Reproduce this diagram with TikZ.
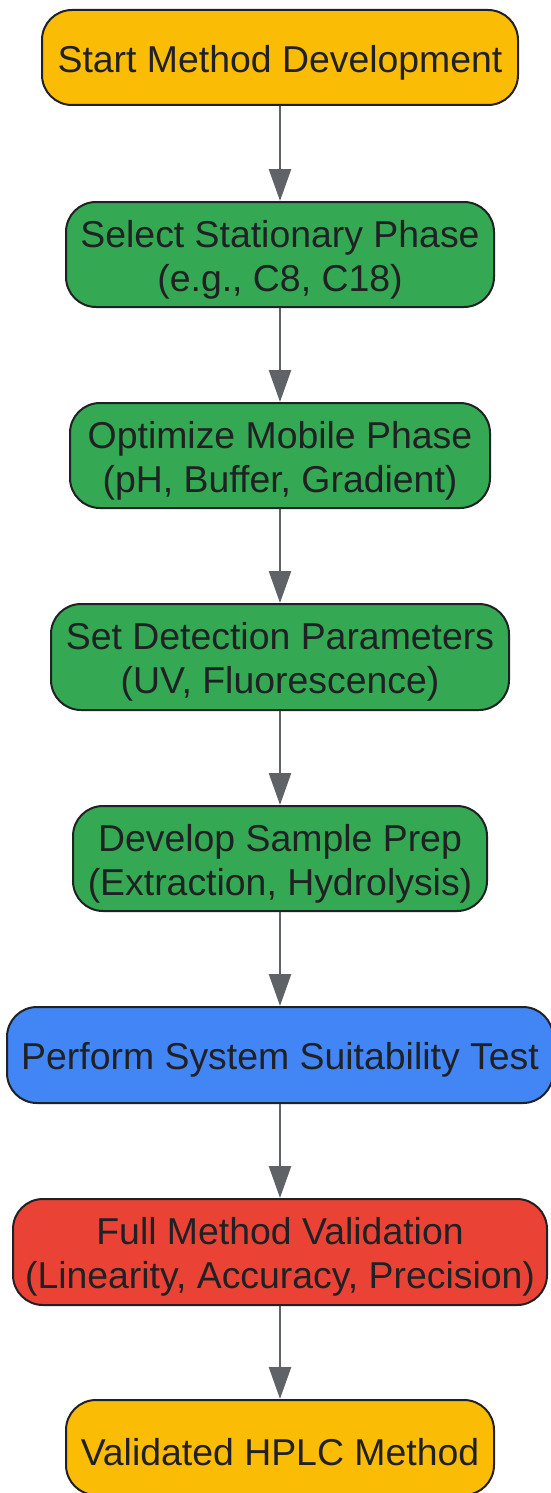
\documentclass[tikz,border=0pt]{standalone}
\usepackage{fontspec}
\setmainfont{Liberation Sans}
\usetikzlibrary{arrows.meta}
\definecolor{cyellow}{HTML}{FBBC05}
\definecolor{cgreen}{HTML}{34A853}
\definecolor{cblue}{HTML}{4285F4}
\definecolor{cred}{HTML}{EA4335}
\definecolor{ctext}{HTML}{202124}
\definecolor{carrow}{HTML}{5F6368}
\tikzset{
  box/.style={draw=ctext, line width=1pt, rounded corners=15pt, inner sep=0pt},
  txt/.style={align=center, text=ctext, inner sep=0pt, font=\fontsize{18.7pt}{22pt}\selectfont},
  conn/.style={draw=carrow, line width=1.3pt, -{Triangle[length=16pt,width=11pt]}}
}
\begin{document}
\begin{tikzpicture}[x=0.5pt,y=-0.5pt]
\useasboundingbox (0,0) rectangle (551,1493);
\node[box, fill=cyellow, minimum width=238pt, minimum height=47.5pt] (n1) at (280,57.5) {};
\node[box, fill=cgreen, minimum width=214pt, minimum height=52.5pt] (n2) at (280,254.5) {};
\node[box, fill=cgreen, minimum width=210pt, minimum height=52.5pt] (n3) at (280,455.5) {};
\node[box, fill=cgreen, minimum width=229pt, minimum height=53pt] (n4) at (280,657) {};
\node[box, fill=cgreen, minimum width=207pt, minimum height=52.5pt] (n5) at (280,858.5) {};
\node[box, fill=cblue, minimum width=273pt, minimum height=48pt] (n6) at (280,1055) {};
\node[box, fill=cred, minimum width=267pt, minimum height=53pt] (n7) at (280,1252) {};
\node[box, fill=cyellow, minimum width=214pt, minimum height=47.5pt] (n8) at (280,1447.5) {};
\node[txt] (t1) at ([yshift=-2.5pt]n1.center) {Start Method Development};
\node[txt] (t2) at ([yshift=-2.5pt]n2.center) {Select Stationary Phase\\(e.g., C8, C18)};
\node[txt] (t3) at ([yshift=-2.5pt]n3.center) {Optimize Mobile Phase\\(pH, Buffer, Gradient)};
\node[txt] (t4) at ([yshift=-2.5pt]n4.center) {Set Detection Parameters\\(UV, Fluorescence)};
\node[txt] (t5) at ([yshift=-2.5pt]n5.center) {Develop Sample Prep\\(Extraction, Hydrolysis)};
\node[txt] (t6) at ([yshift=-2.5pt]n6.center) {Perform System Suitability Test};
\node[txt] (t7) at ([yshift=-2.5pt]n7.center) {Full Method Validation\\(Linearity, Accuracy, Precision)};
\node[txt] (t8) at ([yshift=-2.5pt]n8.center) {Validated HPLC Method};
\draw[conn] (n1) -- (n2);
\draw[conn] (n2) -- (n3);
\draw[conn] (n3) -- (n4);
\draw[conn] (n4) -- (n5);
\draw[conn] (n5) -- (n6);
\draw[conn] (n6) -- (n7);
\draw[conn] (n7) -- (n8);
\end{tikzpicture}
\end{document}
